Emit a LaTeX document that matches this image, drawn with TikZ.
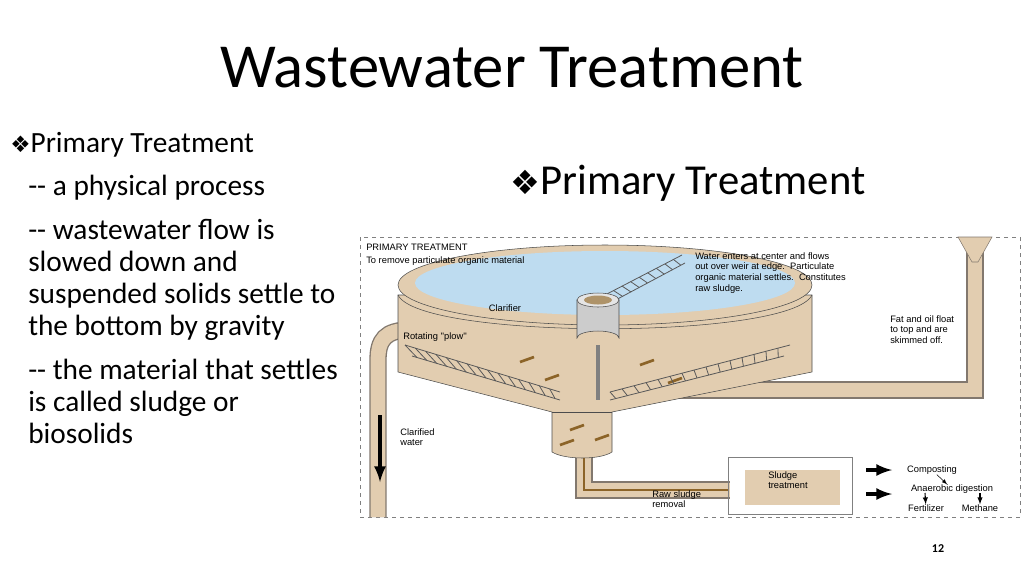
\documentclass[tikz,border=0pt]{standalone}
\usepackage{fontspec}
\setmainfont{Carlito}
\newfontfamily\symfont{DejaVu Sans}
\newfontfamily\labfont{Liberation Sans}
\usetikzlibrary{positioning,calc}
\definecolor{tankfill}{RGB}{226,205,176}
\definecolor{waterblue}{RGB}{190,220,240}
\definecolor{sludgebrown}{RGB}{140,100,40}
\definecolor{pipeedge}{RGB}{130,120,110}
\tikzset{
  lab/.style={font=\labfont\fontsize{7}{8}\selectfont, align=left, inner sep=0pt},
  bodytext/.style={font=\fontsize{22}{24}\selectfont, align=left, anchor=north west, inner sep=0pt},
  pipe/.style={draw=pipeedge, line width=13pt},
  pipein/.style={draw=tankfill, line width=11pt},
  truss/.style={draw=gray!70!black, line width=0.6pt},
  blackarrow/.style={-latex, line width=3pt}
}
\begin{document}
\begin{tikzpicture}[x=0.75pt, y=-0.75pt]
\useasboundingbox (0,0) rectangle (1024,576);
% title and text
\node[font=\fontsize{47}{52}\selectfont] (title) at (512,68) {Wastewater Treatment};
\node[bodytext] (b1) at (10,132) {{\symfont\fontsize{17}{18}\selectfont ❖}Primary Treatment};
\node[bodytext] (b2) at (28,175) {-{}- a physical process};
\node[bodytext] (b3) at (28,219) {-{}- wastewater flow is\\slowed down and\\suspended solids settle to\\the bottom by gravity};
\node[bodytext] (b4) at (28,359) {-{}- the material that settles\\is called sludge or\\biosolids};
\node[font=\fontsize{32}{34}\selectfont] (head) at (688,183) {{\symfont\fontsize{25}{26}\selectfont ❖}Primary Treatment};
\node[font=\fontsize{9}{10}\selectfont\bfseries] (page) at (938,549) {12};
% diagram frame
\draw[dashed, gray] (360,237) rectangle (1020,517);
% right pipe (skimmings)
\draw[pipe] (975,245) -- (975,390) -- (598,390) -- (598,345);
\draw[pipein] (975,245) -- (975,390) -- (598,390) -- (598,345);
\fill[tankfill, draw=pipeedge] (958,237) -- (992,237) -- (978,262) -- (972,262) -- cycle;
% left pipe (clarified water)
\draw[pipe] (410,330) .. controls (385,330) and (378,340) .. (378,360) -- (378,517);
\draw[pipein] (410,330) .. controls (385,330) and (378,340) .. (378,360) -- (378,517);
% sludge pipe
\draw[pipe] (584,452) -- (584,490) -- (730,490);
\draw[pipein] (584,452) -- (584,490) -- (730,490);
\draw[sludgebrown, line width=1.5pt] (584,455) -- (584,490) -- (728,490);
% tank
\fill[tankfill, draw=gray!60!black] (398,295) -- (398,372) -- (552,412) -- (552,452)
  .. controls (565,460) and (600,460) .. (612,452) -- (612,412) -- (812,372) -- (812,295) -- cycle;
\fill[tankfill, draw=gray!60!black] (605,285) ellipse (207 and 40);
\fill[waterblue] (605,283) ellipse (190 and 32);
\draw[gray!60!black] (398,295) .. controls (420,340) and (790,340) .. (812,295);
\draw[gray!60!black] (552,412) -- (612,412);
% sludge streaks
\foreach \px/\py in {520/362,545/380,640/365,668/383,570/430,595/440,560/445}
  \draw[sludgebrown, line width=2pt] (\px,\py) -- ++(14,-5);
% plows
\draw[truss] (405,345) -- (560,392) (412,356) -- (560,400);
\foreach \i in {0,...,14}
  \draw[truss] ($(405,345)!{\i/15}!(560,392)$) -- ($(412,356)!{(\i+0.5)/15}!(560,400)$);
\draw[truss] (610,392) -- (790,345) (610,400) -- (784,356);
\foreach \i in {0,...,14}
  \draw[truss] ($(610,392)!{\i/15}!(790,345)$) -- ($(610,400)!{(\i+0.5)/15}!(784,356)$);
\draw[truss] (605,295) -- (682,255) (610,303) -- (685,263);
\foreach \i in {0,...,8}
  \draw[truss] ($(605,295)!{\i/9}!(682,255)$) -- ($(610,303)!{(\i+0.5)/9}!(685,263)$);
% center well
\draw[gray, line width=3pt] (598,345) -- (598,400);
\fill[gray!40, draw=gray!60!black] (577,300) -- (577,338) arc (180:360:21 and 7) -- (619,300) -- cycle;
\fill[gray!20, draw=gray!60!black] (598,300) ellipse (21 and 7);
\fill[sludgebrown!70] (598,300) ellipse (14 and 4.5);
% sludge treatment box
\draw[gray] (728,457) rectangle (852,514);
\fill[tankfill] (745,470) rectangle (840,505);
% labels
\node[lab, anchor=west] (ptitle) at (366,247) {PRIMARY TREATMENT};
\node[lab, anchor=west] (psub) at (366,261) {To remove particulate organic material};
\node[lab] (clar) at (505,308) {Clarifier};
\node[lab, anchor=west] (plow) at (403,337) {Rotating ''plow''};
\node[lab, anchor=north west] (enters) at (695,252) {Water enters at center and flows\\out over weir at edge.\ \ Particulate\\organic material settles.\ \ Constitutes\\raw sludge.};
\node[lab, anchor=north west] (fat) at (890,315) {Fat and oil float\\to top and are\\skimmed off.};
\node[lab, anchor=north west] (clw) at (400,428) {Clarified\\water};
\node[lab, anchor=north west] (raw) at (652,490) {Raw sludge\\removal};
\node[lab, anchor=north west] (sltr) at (768,471) {Sludge\\treatment};
\coordinate (arrtop) at (380,415);
\coordinate (arrbot) at (380,482);
\draw[blackarrow] (arrtop) -- (arrbot);
\coordinate (a1s) at (866,470); \coordinate (a1e) at (892,470);
\coordinate (a2s) at (866,494); \coordinate (a2e) at (892,494);
\draw[blackarrow] (a1s) -- (a1e);
\draw[blackarrow] (a2s) -- (a2e);
\node[lab] (comp) at (932,470) {Composting};
\node[lab] (anae) at (952,489) {Anaerobic digestion};
\node[lab] (fert) at (926,508) {Fertilizer};
\node[lab] (meth) at (980,508) {Methane};
\draw[-latex] (comp) -- (anae);
\draw[-latex, thick] (925,493) -- (fert);
\draw[-latex, thick] (980,493) -- (meth);
\end{tikzpicture}
\end{document}
